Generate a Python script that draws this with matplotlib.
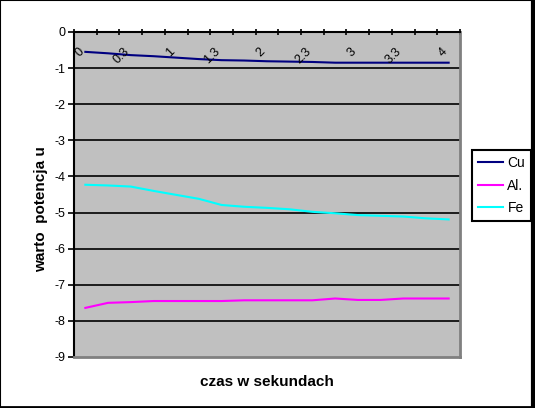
import numpy as np
import matplotlib
matplotlib.use('Agg')
import matplotlib.pyplot as plt
from matplotlib.patches import Rectangle
from matplotlib.lines import Line2D

plt.rcParams['font.family'] = ['Liberation Sans', 'DejaVu Sans']

# categories (time steps) and series values
steps = list(range(17))
cu = [-0.55, -0.59, -0.64, -0.67, -0.71, -0.75, -0.78, -0.79, -0.81,
      -0.82, -0.83, -0.85, -0.85, -0.85, -0.85, -0.85, -0.85]
al = [-7.64, -7.50, -7.48, -7.45, -7.45, -7.45, -7.45, -7.43, -7.43,
      -7.43, -7.43, -7.38, -7.42, -7.42, -7.38, -7.38, -7.38]
fe = [-4.23, -4.25, -4.28, -4.40, -4.51, -4.62, -4.79, -4.84, -4.87,
      -4.91, -4.98, -5.02, -5.07, -5.09, -5.11, -5.16, -5.19]

# x labels shown at every second category
xlabel_pos = [0, 2, 4, 6, 8, 10, 12, 14, 16]
xlabel_txt = ['0', '0.3', '1', '1.3', '2', '2.3', '3', '3.3', '4']
yticks = list(range(0, -10, -1))

fig = plt.figure(figsize=(5.35, 4.08), dpi=100)
ax = fig.add_axes([74/535, 51/408, 386/535, 325/408])
ax.set_facecolor('#c0c0c0')

ax.plot(steps, cu, color='#000080', lw=1.5, label='Cu')
ax.plot(steps, al, color='#ff00ff', lw=1.5, label='Al.')
ax.plot(steps, fe, color='#00ffff', lw=1.5, label='Fe')

ax.set_xlim(-0.5, 16.5)
ax.set_ylim(-9, 0)
for v in yticks[1:-1]:
    ax.axhline(v, color='black', lw=1.2, zorder=1)

ax.set_yticks(yticks)
ax.set_yticklabels([str(v) for v in yticks], fontsize=9)
ax.tick_params(axis='y', direction='out', length=4, width=1.2, pad=2)

ax.xaxis.tick_top()
ax.set_xticks(np.arange(-0.5, 17, 1))
ax.set_xticklabels([])
ax.tick_params(axis='x', direction='inout', length=5, width=1.2)

for p, t in zip(xlabel_pos, xlabel_txt):
    ax.text(p - 0.15, -0.5, t, rotation=45, rotation_mode='anchor',
            ha='right', va='center', fontsize=9)

ax.spines['top'].set_linewidth(1.5)
ax.spines['left'].set_linewidth(1.5)
for s in ['right', 'bottom']:
    ax.spines[s].set_color('#808080')
    ax.spines[s].set_linewidth(2)

fig.text(267/535, 1 - 382/408, 'czas w sekundach', ha='center', va='center',
         fontsize=11, fontweight='bold')
fig.text(41/535, 1 - 209/408, 'warto  potencja u', ha='center', va='center',
         rotation=90, fontsize=11, fontweight='bold')

leg = fig.legend(loc='upper left', bbox_to_anchor=(472/535, 1 - 150/408),
                 fontsize=10, frameon=True, fancybox=False, edgecolor='black',
                 framealpha=1, handlelength=1.8, labelspacing=0.6,
                 borderpad=0.45, handletextpad=0.3, borderaxespad=0)
leg.get_frame().set_linewidth(1.5)

# chart area border
fig.add_artist(Rectangle((0, 0), 1, 1, transform=fig.transFigure,
                         fill=False, edgecolor='black', lw=1.5))
fig.add_artist(Line2D([1 - 2/535, 1 - 2/535], [0, 1], transform=fig.transFigure,
                      color='black', lw=3))
fig.add_artist(Line2D([0, 1], [1.5/408, 1.5/408], transform=fig.transFigure,
                      color='black', lw=2))

fig.savefig('out.png', dpi=100)
